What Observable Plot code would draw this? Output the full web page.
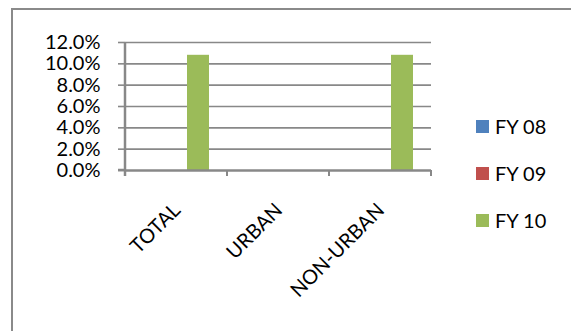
<!DOCTYPE html>
<html><head><meta charset="utf-8">
<script src="https://cdn.jsdelivr.net/npm/d3@7"></script>
<script src="https://cdn.jsdelivr.net/npm/@observablehq/plot@0.6"></script>
<style>
html,body{margin:0;padding:0;background:#fff;}
#wrap{position:relative;width:571px;height:331px;overflow:hidden;font-family:Lato,sans-serif;background:#fff;}
#border{position:absolute;left:11px;top:8px;width:700px;height:500px;border:2px solid #8a8a8a;box-sizing:border-box;}
#chart{position:absolute;left:0;top:0;}
.item{position:absolute;left:476px;height:24px;display:flex;align-items:center;white-space:nowrap;font-size:20px;color:#000;}
.sw{width:13px;height:13px;margin-right:6px;flex:none;}
</style></head>
<body>
<div id="wrap"><div id="border"></div><div id="chart"></div><div id="legend"></div></div>
<script>
const categories = ["TOTAL", "URBAN", "NON-URBAN"];
const series = ["FY 08", "FY 09", "FY 10"];
const fy08 = [0, 0, 0];
const fy09 = [0, 0, 0];
const fy10 = [0.108, 0, 0.108];
const colors = ["#4F81BD", "#C0504D", "#9BBB59"];
const yTicks = [0, 0.02, 0.04, 0.06, 0.08, 0.10, 0.12];

const seriesValues = [fy08, fy09, fy10];
const data = categories.flatMap((c, i) => series.map((s, j) => ({category: c, series: s, value: seriesValues[j][i]})));

const grid = "#888888";
const chart = Plot.plot({
  width: 571, height: 331,
  marginLeft: 125, marginRight: 140, marginTop: 42, marginBottom: 161,
  style: {fontFamily: "Lato, sans-serif", fontSize: "20px", background: "transparent", color: "#000", overflow: "visible"},
  fx: {domain: categories, padding: 0, axis: null, label: null},
  x: {domain: series, paddingInner: 0, paddingOuter: 0.75, axis: null, label: null},
  y: {domain: [0, 0.12], axis: null, label: null},
  color: {domain: series, range: colors},
  marks: [
    Plot.gridY(yTicks.slice(1), {stroke: grid, strokeOpacity: 1, strokeWidth: 1.6}),
    Plot.axisY({ticks: yTicks, tickSize: 7, tickPadding: 18, tickFormat: d3.format(".1%"), stroke: grid, strokeWidth: 1.6, label: null, fill: "#000", fontSize: 20}),
    Plot.barY(data, {fx: "category", x: "series", y: "value", fill: "series"}),
    Plot.ruleY([0], {stroke: grid, strokeWidth: 2.5}),
    Plot.text(categories, {fx: d => d, text: d => d, frameAnchor: "bottom", rotate: -45, textAnchor: "end", lineAnchor: "bottom", dx: 5, dy: 41, fontSize: 20, fill: "#000"})
  ]
});
document.getElementById("chart").appendChild(chart);

// axis line and category boundary ticks, from the plot's own scales
const fx = chart.scale("fx"), y = chart.scale("y");
const svg = d3.select(chart);
const y0 = y.apply(0), yTop = y.apply(0.12);
const g = svg.append("g").attr("stroke", grid).attr("stroke-width", 2.5);
const left = fx.apply(categories[0]);
g.append("line").attr("x1", left).attr("x2", left).attr("y1", yTop).attr("y2", y0 + 6);
g.append("line").attr("x1", left - 7).attr("x2", left).attr("y1", y0).attr("y2", y0);
categories.forEach(c => {
  const xr = fx.apply(c) + fx.bandwidth;
  g.append("line").attr("x1", xr).attr("x2", xr).attr("y1", y0).attr("y2", y0 + 6).attr("stroke-width", 2);
});

// legend
const legend = document.getElementById("legend");
series.forEach((s, i) => {
  const it = document.createElement("div");
  it.className = "item";
  it.style.top = (114 + i * 47) + "px";
  it.innerHTML = `<span class="sw" style="background:${colors[i]}"></span><span>${s}</span>`;
  legend.appendChild(it);
});
</script>
</body></html>
